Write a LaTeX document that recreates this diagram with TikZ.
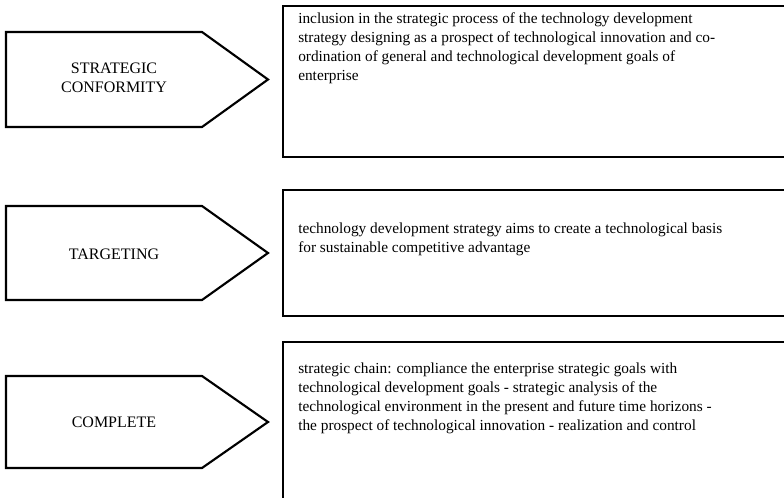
\documentclass[tikz,border=0pt]{standalone}
\usepackage{fontspec}
\setmainfont{Liberation Serif}
\usetikzlibrary{positioning}

\tikzset{
  pointer/.style={draw, line width=1.6pt, line join=miter},
  framebox/.style={draw, line width=2.2pt},
  tag/.style={font=\fontsize{12}{14.25}\selectfont, align=center, inner sep=0pt},
  boxtext/.style={font=\fontsize{11.5}{14.25}\selectfont, align=left, inner sep=0pt, anchor=north west}
}

\begin{document}
\begin{tikzpicture}[x=0.75pt, y=-0.75pt]
  \useasboundingbox (0,0) rectangle (784,498);
  \clip (0,0) rectangle (784,498);

  % pointers on the left
  \foreach \t/\b in {32/127, 206/300, 376/468}
    \draw[pointer] (6,\t) -- (202,\t) -- (268,{(\t+\b)/2}) -- (202,\b) -- (6,\b) -- cycle;

  % frames on the right
  \draw[framebox] (283,6) rectangle (800,157);
  \draw[framebox] (283,190) rectangle (800,316);
  \draw[framebox] (283,342) rectangle (800,520);

  % labels
  \node[tag] (conformity) at (114,77.5) {STRATEGIC\\CONFORMITY};
  \node[tag] (targeting) at (114,254) {TARGETING};
  \node[tag] (complete) at (114,422) {COMPLETE};

  % texts
  \node[boxtext] (conformitytext) at (298,12) {inclusion in the strategic process of the technology development\\
    strategy designing as a prospect of technological innovation and co-\\
    ordination of general and technological development goals of\\
    enterprise};
  \node[boxtext] (targetingtext) at (298,223) {technology development strategy aims to create a technological basis\\
    for sustainable competitive advantage};
  \node[boxtext] (completetext) at (298,363) {strategic chain: compliance the enterprise strategic goals with\\
    technological development goals - strategic analysis of the\\
    technological environment in the present and future time horizons -\\
    the prospect of technological innovation - realization and control};
\end{tikzpicture}
\end{document}
